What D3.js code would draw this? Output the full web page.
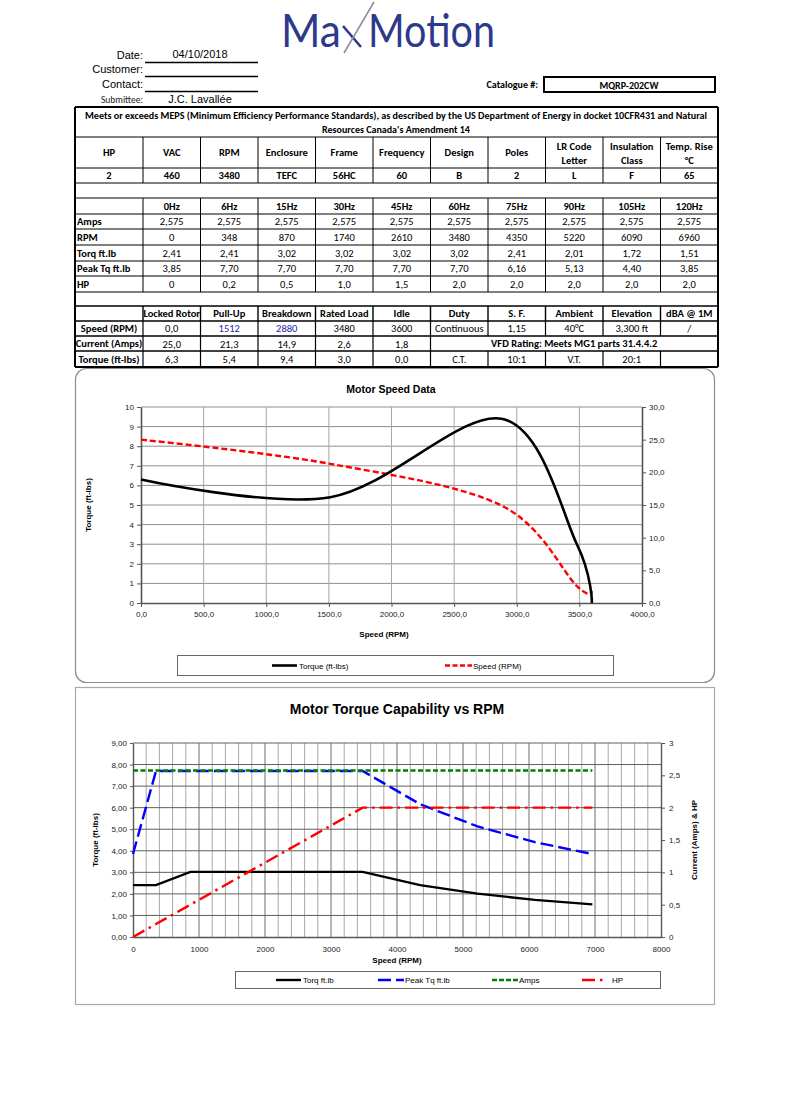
<!DOCTYPE html>
<html><head><meta charset="utf-8">
<script src="https://cdn.jsdelivr.net/npm/d3@7"></script>
<style>body{margin:0;background:#fff}svg{display:block}</style>
</head><body>
<svg id="c" width="800" height="1119"></svg>
<script>
// ---------------- DATA ----------------
const formLabels = ["Date:", "Customer:", "Contact:", "Submittee:"];
const formValues = ["04/10/2018", "", "", "J.C. Lavallée"];
const catalogueLabel = "Catalogue #:";
const catalogueValue = "MQRP-202CW";
const mepsLines = ["Meets or exceeds MEPS (Minimum Efficiency Performance Standards), as described by the US Department of Energy in docket 10CFR431 and Natural",
                   "Resources Canada's Amendment 14"];
const specHeaders = [["HP"],["VAC"],["RPM"],["Enclosure"],["Frame"],["Frequency"],["Design"],["Poles"],["LR Code","Letter"],["Insulation","Class"],["Temp. Rise","°C"]];
const specValues = ["2","460","3480","TEFC","56HC","60","B","2","L","F","65"];
const freqLabels = ["0Hz","6Hz","15Hz","30Hz","45Hz","60Hz","75Hz","90Hz","105Hz","120Hz"];
const vfdAmps = [2.575,2.575,2.575,2.575,2.575,2.575,2.575,2.575,2.575,2.575];
const vfdRpm = [0,348,870,1740,2610,3480,4350,5220,6090,6960];
const vfdTorque = [2.41,2.41,3.02,3.02,3.02,3.02,2.41,2.01,1.72,1.51];
const vfdPeakTorque = [3.85,7.70,7.70,7.70,7.70,7.70,6.16,5.13,4.40,3.85];
const vfdHp = [0,0.2,0.5,1.0,1.5,2.0,2.0,2.0,2.0,2.0];
const vfdRowLabels = ["Amps","RPM","Torq ft.lb","Peak Tq ft.lb","HP"];
const perfHeaders = ["Locked Rotor","Pull-Up","Breakdown","Rated Load","Idle"];
const perfSpeed = [0,1512,2880,3480,3600];
const perfCurrent = [25.0,21.3,14.9,2.6,1.8];
const perfTorque = [6.3,5.4,9.4,3.0,0.0];
const perfRowLabels = ["Speed (RPM)","Current (Amps)","Torque (ft-lbs)"];
const extraHeaders = ["Duty","S. F.","Ambient","Elevation","dBA @ 1M"];
const extraValues = ["Continuous","1,15","40°C","3,300 ft","/"];
const vfdRating = "VFD Rating: Meets MG1 parts 31.4.4.2";
const ratioValues = ["C.T.","10:1","V.T.","20:1",""];

const chart1Title = "Motor Speed Data";
const chart1XTicks = [0,500,1000,1500,2000,2500,3000,3500,4000];
const chart1YTicks = [0,1,2,3,4,5,6,7,8,9,10];
const chart1Y2Ticks = [0,5,10,15,20,25,30];
const chart1Legend = ["Torque (ft-lbs)","Speed (RPM)"];

const chart2Title = "Motor Torque Capability vs RPM";
const chart2XTicks = [0,1000,2000,3000,4000,5000,6000,7000,8000];
const chart2XMinor = [200,400,600,800,1200,1400,1600,1800,2200,2400,2600,2800,3200,3400,3600,3800,4200,4400,4600,4800,5200,5400,5600,5800,6200,6400,6600,6800,7200,7400,7600,7800];
const chart2YTicks = [0,1,2,3,4,5,6,7,8,9];
const chart2Y2Ticks = [0,0.5,1,1.5,2,2.5,3];
const chart2Legend = ["Torq ft.lb","Peak Tq ft.lb","Amps","HP"];

// ---------------- HELPERS ----------------
const svg = d3.select('#c');
const CAL = "Carlito, Calibri, Lato, 'Open Sans', sans-serif";
const NARROW = "'Liberation Sans Narrow','Arial Narrow','Liberation Sans',Arial,sans-serif";
const ARIAL = "'Liberation Sans', Arial, Helvetica, sans-serif";
const dec = (v, d) => v.toFixed(d).replace('.', ',');

function txt(g, x, y, s, o = {}) {
  const t = g.append('text').attr('x', x).attr('y', y).text(s)
    .attr('font-family', o.ff || CAL).attr('font-size', o.fs || 10.5)
    .attr('font-weight', o.fw || 'normal').attr('fill', o.fill || '#000')
    .attr('text-anchor', o.anchor || 'middle');
  if (o.tl) t.attr('textLength', o.tl).attr('lengthAdjust', 'spacingAndGlyphs');
  return t;
}
function hline(g, x0, x1, y, w = 1, c = '#000') {
  return g.append('line').attr('x1', x0).attr('x2', x1).attr('y1', y).attr('y2', y).attr('stroke', c).attr('stroke-width', w);
}
function vline(g, x, y0, y1, w = 1, c = '#000') {
  return g.append('line').attr('x1', x).attr('x2', x).attr('y1', y0).attr('y2', y1).attr('stroke', c).attr('stroke-width', w);
}

// ---------------- LOGO ----------------
const logo = svg.append('g');
const navy = '#2d3a8c';
const LOGOF = "Lato, 'Open Sans', sans-serif";
txt(logo, 281, 47, 'Ma', {ff: LOGOF, fw: 400, fs: 47, anchor: 'start', fill: navy, tl: 60});
logo.append('line').attr('x1', 343).attr('y1', 26).attr('x2', 361).attr('y2', 47).attr('stroke', navy).attr('stroke-width', 2.6);
logo.append('line').attr('x1', 344).attr('y1', 53).attr('x2', 374).attr('y2', 2).attr('stroke', '#8a8fa6').attr('stroke-width', 1.6);
txt(logo, 368, 47, 'Motion', {ff: LOGOF, fw: 400, fs: 47, anchor: 'start', fill: navy, tl: 127});

// ---------------- FORM ----------------
const form = svg.append('g');
const formY = [59, 73, 88, 103];
formLabels.forEach((l, i) => {
  if (i < 3) {
    txt(form, 143, formY[i], l, {ff: NARROW, fs: 11, anchor: 'end'});
    hline(form, 145, 258, formY[i] + 3.5, 1.4);
  } else {
    txt(form, 143, formY[i], l, {ff: CAL, fs: 9.5, anchor: 'end', fill: '#222'});
  }
  if (formValues[i]) txt(form, 200, formY[i] - (i === 0 ? 1 : 0), formValues[i], {ff: NARROW, fs: 11});
});
txt(form, 538, 88, catalogueLabel, {ff: CAL, fs: 10, fw: 'bold', anchor: 'end'});
form.append('rect').attr('x', 544).attr('y', 77).attr('width', 171).attr('height', 15)
  .attr('fill', 'none').attr('stroke', '#000').attr('stroke-width', 2);
txt(form, 629, 88.5, catalogueValue, {ff: CAL, fs: 10, fw: 'bold'});

// ---------------- TABLE ----------------
const tb = svg.append('g');
const XL = 75, XR = 718;
const colX = [75, 143, 200.5, 258, 315.5, 373, 430.5, 488, 545.5, 603, 660.5, 718];
const rowY = [107, 137, 168, 183, 198, 214, 229, 245, 261, 276, 292, 306, 321, 336, 351, 367];
const cx = i => (colX[i] + colX[i + 1]) / 2;
const by = r => (rowY[r] + rowY[r + 1]) / 2 + 3.6;

rowY.forEach((y, i) => {
  const w = (i === 0 || i === rowY.length - 1) ? 2 : (i >= 11 ? 1.4 : 1);
  hline(tb, XL, XR, y, w);
});
function vcols(r0, r1, cols, w = 1) { cols.forEach(c => vline(tb, colX[c], rowY[r0], rowY[r1], w)); }
vcols(1, 3, [1,2,3,4,5,6,7,8,9,10]);
vcols(4, 10, [1,2,3,4,5,6,7,8,9,10]);
vcols(11, 12, [1,2,3,4,5,6,7,8,9,10], 1.4);
vcols(12, 13, [1,2,3,4,5,6,7,8,9,10], 1.2);
vcols(13, 14, [1,2,3,4,5,6], 1.2);
vcols(14, 15, [1,2,3,4,5,6,7,8,9,10], 1.2);
vline(tb, XL, rowY[0], rowY[15], 2);
vline(tb, XR, rowY[0], rowY[15], 2);

txt(tb, 396, 119, mepsLines[0], {fw: 'bold', fs: 10, tl: 622});
txt(tb, 396, 133, mepsLines[1], {fw: 'bold', fs: 10});
specHeaders.forEach((h, i) => {
  if (h.length === 1) txt(tb, cx(i), by(1), h[0], {fw: 'bold'});
  else { txt(tb, cx(i), 150, h[0], {fw: 'bold'}); txt(tb, cx(i), 164, h[1], {fw: 'bold'}); }
});
specValues.forEach((v, i) => txt(tb, cx(i), by(2), v, {fw: 'bold'}));
freqLabels.forEach((f, i) => txt(tb, cx(i + 1), by(4), f, {fw: 'bold'}));
const vfdRows = [
  vfdAmps.map(v => dec(v, 3)),
  vfdRpm.map(v => String(v)),
  vfdTorque.map(v => dec(v, 2)),
  vfdPeakTorque.map(v => dec(v, 2)),
  vfdHp.map(v => v === 0 ? '0' : dec(v, 1))
];
vfdRowLabels.forEach((l, r) => {
  txt(tb, 77, by(5 + r), l, {fw: 'bold', anchor: 'start'});
  vfdRows[r].forEach((v, i) => txt(tb, cx(i + 1), by(5 + r), v));
});
perfHeaders.forEach((h, i) => txt(tb, cx(i + 1), by(11), h, {fw: 'bold'}));
extraHeaders.forEach((h, i) => txt(tb, cx(i + 6), by(11), h, {fw: 'bold'}));
perfRowLabels.forEach((l, r) => txt(tb, cx(0), by(12 + r), l, {fw: 'bold'}));
perfSpeed.forEach((v, i) => txt(tb, cx(i + 1), by(12), v === 0 ? '0,0' : String(v), {fill: (i === 1 || i === 2) ? '#1f1fa8' : '#000'}));
extraValues.forEach((v, i) => txt(tb, cx(i + 6), by(12), v));
perfCurrent.forEach((v, i) => txt(tb, cx(i + 1), by(13) + 1, dec(v, 1)));
txt(tb, (colX[6] + colX[11]) / 2, by(13), vfdRating, {fw: 'bold'});
perfTorque.forEach((v, i) => txt(tb, cx(i + 1), by(14), dec(v, 1)));
ratioValues.forEach((v, i) => txt(tb, cx(i + 6), by(14), v));

// ---------------- CHART 1 ----------------
const c1 = svg.append('g');
c1.append('rect').attr('x', 75.5).attr('y', 368.5).attr('width', 639).attr('height', 314).attr('rx', 11)
  .attr('fill', '#fff').attr('stroke', '#8c8c8c').attr('stroke-width', 1.2);
const x1 = d3.scaleLinear().domain([0, 4000]).range([141, 642]);
const y1 = d3.scaleLinear().domain([0, 10]).range([603, 407]);
const y1b = d3.scaleLinear().domain([0, 30]).range([603, 407]);
const grid1 = c1.append('g');
chart1YTicks.slice(1).forEach(v => hline(grid1, x1.range()[0], x1.range()[1], y1(v), 1, '#8f8f8f'));
chart1XTicks.slice(1, -1).forEach(v => vline(grid1, x1(v), 407, 603, 1, '#a6a6a6'));
const ax1 = c1.append('g').attr('transform', 'translate(0,603)')
  .call(d3.axisBottom(x1).tickValues(chart1XTicks).tickSize(4).tickSizeOuter(0).tickFormat(v => dec(v, 1)));
const ay1 = c1.append('g').attr('transform', 'translate(141,0)')
  .call(d3.axisLeft(y1).tickValues(chart1YTicks).tickSize(4).tickSizeOuter(0).tickFormat(d3.format('d')));
const ay1b = c1.append('g').attr('transform', 'translate(642,0)')
  .call(d3.axisRight(y1b).tickValues(chart1Y2Ticks).tickSize(4).tickSizeOuter(0).tickFormat(v => dec(v, 1)));
[ax1, ay1, ay1b].forEach(a => {
  a.selectAll('text').attr('font-family', ARIAL).attr('font-size', 8).attr('fill', '#222');
  a.select('.domain').attr('stroke', '#555').attr('stroke-width', 1.6);
  a.selectAll('.tick line').attr('stroke', '#555');
});
ax1.selectAll('text').attr('dy', '0.9em');
const line1 = d3.line().x(d => x1(d[0])).curve(d3.curveCardinal.tension(0));
c1.append('path').datum(perfSpeed.map((s, i) => [s, perfCurrent[i]]))
  .attr('d', line1.y(d => y1b(d[1]))).attr('fill', 'none').attr('stroke', '#ff0000')
  .attr('stroke-width', 2.4).attr('stroke-dasharray', '6,3');
c1.append('path').datum(perfSpeed.map((s, i) => [s, perfTorque[i]]))
  .attr('d', line1.y(d => y1(d[1]))).attr('fill', 'none').attr('stroke', '#000')
  .attr('stroke-width', 2.6);
txt(c1, 391, 393, chart1Title, {ff: ARIAL, fw: 'bold', fs: 10.5});
txt(c1, 384, 637, 'Speed (RPM)', {ff: ARIAL, fw: 'bold', fs: 8});
txt(c1, 0, 0, 'Torque (ft-lbs)', {ff: ARIAL, fw: 'bold', fs: 8}).attr('transform', 'translate(91,505) rotate(-90)');
c1.append('rect').attr('x', 177.5).attr('y', 655.5).attr('width', 436).attr('height', 20)
  .attr('fill', '#fff').attr('stroke', '#666');
hline(c1, 272, 297, 665.5, 2.6, '#000');
txt(c1, 299, 668.5, chart1Legend[0], {ff: ARIAL, fs: 8, anchor: 'start'});
hline(c1, 445, 472, 665.5, 2.4, '#ff0000').attr('stroke-dasharray', '5,2.5');
txt(c1, 473, 668.5, chart1Legend[1], {ff: ARIAL, fs: 8, anchor: 'start'});

// ---------------- CHART 2 ----------------
const c2 = svg.append('g');
c2.append('rect').attr('x', 75.5).attr('y', 687.5).attr('width', 639).attr('height', 317)
  .attr('fill', '#fff').attr('stroke', '#a9a9a9').attr('stroke-width', 1.2);
const x2 = d3.scaleLinear().domain([0, 8000]).range([133, 661]);
const y2 = d3.scaleLinear().domain([0, 9]).range([937, 743]);
const y2b = d3.scaleLinear().domain([0, 3]).range([937, 743]);
const grid2 = c2.append('g');
chart2XMinor.forEach(v => vline(grid2, x2(v), 743, 937, 1, '#a8a8a8'));
chart2XTicks.slice(1, -1).forEach(v => vline(grid2, x2(v), 743, 937, 1, '#6e6e6e'));
chart2YTicks.slice(1).forEach(v => hline(grid2, 133, 661, y2(v), 1, '#5e5e5e'));
const ax2 = c2.append('g').attr('transform', 'translate(0,937)')
  .call(d3.axisBottom(x2).tickValues(chart2XTicks).tickSize(0).tickSizeOuter(0).tickFormat(d3.format('d')));
const ay2 = c2.append('g').attr('transform', 'translate(133,0)')
  .call(d3.axisLeft(y2).tickValues(chart2YTicks).tickSize(3).tickSizeOuter(0).tickFormat(v => dec(v, 2)));
const ay2b = c2.append('g').attr('transform', 'translate(661,0)')
  .call(d3.axisRight(y2b).tickValues(chart2Y2Ticks).tickSize(4).tickSizeOuter(0).tickFormat(v => String(v).replace('.', ',')));
[ax2, ay2, ay2b].forEach(a => {
  a.selectAll('text').attr('font-family', ARIAL).attr('font-size', 8).attr('fill', '#222');
  a.select('.domain').attr('stroke', '#555').attr('stroke-width', 1.4);
  a.selectAll('.tick line').attr('stroke', '#555');
});
ax2.selectAll('text').attr('dy', '1.45em');
ay2b.selectAll('text').attr('x', 8);
const pts = arr => vfdRpm.map((r, i) => [r, arr[i]]);
const lineL = d3.line().x(d => x2(d[0])).y(d => y2(d[1]));
const lineR = d3.line().x(d => x2(d[0])).y(d => y2b(d[1]));
c2.append('path').datum(pts(vfdTorque)).attr('d', lineL).attr('fill', 'none').attr('stroke', '#000').attr('stroke-width', 2.3);
c2.append('path').datum(pts(vfdPeakTorque)).attr('d', lineL).attr('fill', 'none').attr('stroke', '#0000ff').attr('stroke-width', 2.4).attr('stroke-dasharray', '13,5');
c2.append('path').datum(pts(vfdAmps)).attr('d', lineR).attr('fill', 'none').attr('stroke', '#008000').attr('stroke-width', 2.4).attr('stroke-dasharray', '5,2.5');
c2.append('path').datum(pts(vfdHp)).attr('d', lineR).attr('fill', 'none').attr('stroke', '#ff0000').attr('stroke-width', 2.4).attr('stroke-dasharray', '13,5,2.5,5');
txt(c2, 397, 714, chart2Title, {ff: ARIAL, fw: 'bold', fs: 14});
txt(c2, 397, 963, 'Speed (RPM)', {ff: ARIAL, fw: 'bold', fs: 8});
txt(c2, 0, 0, 'Torque (ft-lbs)', {ff: ARIAL, fw: 'bold', fs: 8}).attr('transform', 'translate(98,840) rotate(-90)');
txt(c2, 0, 0, 'Current (Amps) & HP', {ff: ARIAL, fw: 'bold', fs: 8}).attr('transform', 'translate(697,840) rotate(-90)');
c2.append('rect').attr('x', 235.5).attr('y', 971.5).attr('width', 425).attr('height', 17)
  .attr('fill', '#fff').attr('stroke', '#666');
const legY = 980;
const legItems = [
  {x0: 276, x1: 301, c: '#000', dash: null, tx: 303},
  {x0: 378, x1: 404, c: '#0000ff', dash: '13,5', tx: 405},
  {x0: 492, x1: 518, c: '#008000', dash: '5,2', tx: 519},
  {x0: 582, x1: 606, c: '#ff0000', dash: '13,5,2.5,5', tx: 612}
];
legItems.forEach((it, i) => {
  const l = c2.append('line').attr('x1', it.x0).attr('x2', it.x1).attr('y1', legY).attr('y2', legY)
    .attr('stroke', it.c).attr('stroke-width', 2.4);
  if (it.dash) l.attr('stroke-dasharray', it.dash);
  txt(c2, it.tx, legY + 3, chart2Legend[i], {ff: ARIAL, fs: 8, anchor: 'start'});
});
</script>
</body></html>
